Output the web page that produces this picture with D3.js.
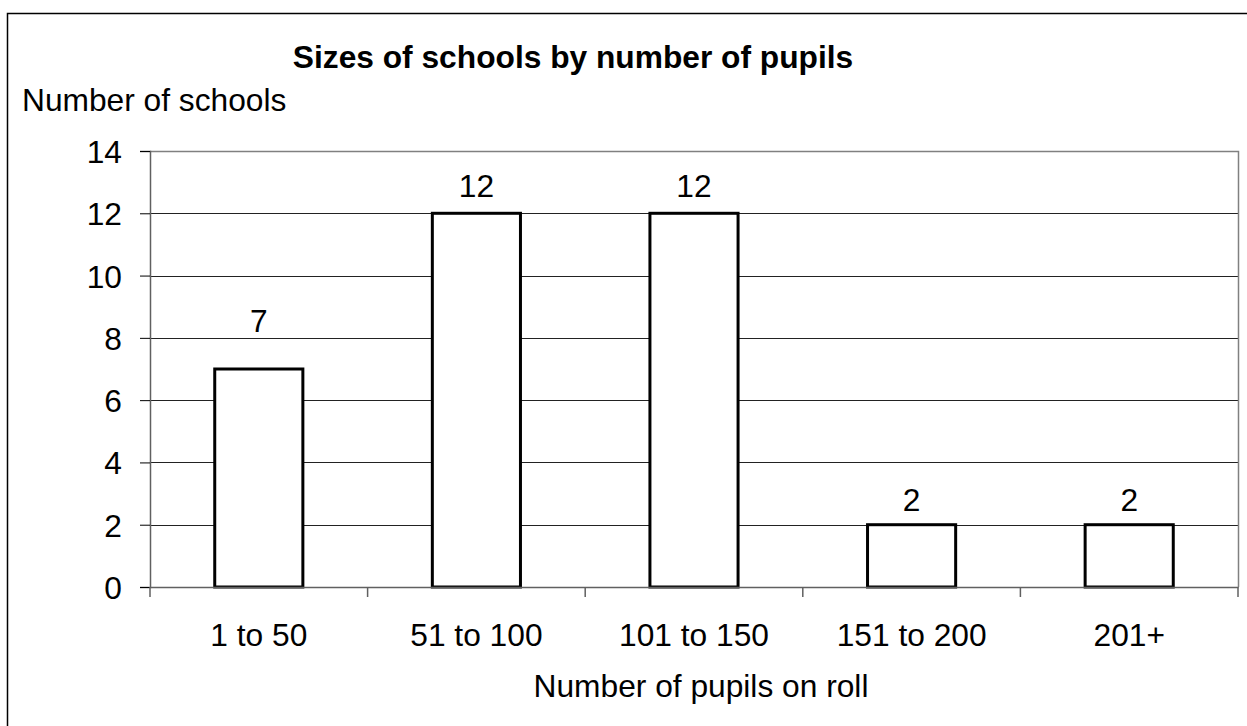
<!DOCTYPE html>
<html><head><meta charset="utf-8">
<script src="https://cdn.jsdelivr.net/npm/d3@7"></script>
<style>body{margin:0;background:#fff}svg{display:block}text{font-family:"Liberation Sans",Arial,sans-serif;fill:#000}</style>
</head><body><svg id="c" width="1247" height="726"></svg>
<script>
const categories = ["1 to 50","51 to 100","101 to 150","151 to 200","201+"];
const schools = [7,12,12,2,2];
const yTicks = [0,2,4,6,8,10,12,14];
const title = "Sizes of schools by number of pupils";
const yTitle = "Number of schools";
const xTitle = "Number of pupils on roll";
// label gap above bar (style)
const labelGap = [37,16,16,14,14];

const svg = d3.select("#c");
const L=150, R=1238, T=151, B=587;
const SX = 1.04, FS = 30.5;
const x = d3.scaleBand().domain(categories).range([L,R]).paddingInner(0.595).paddingOuter(0.2975);
const y = d3.scaleLinear().domain([0,14]).range([B,T]);

function txt(g, s, tx, ty, size, anchor, weight){
  return g.append("text").attr("transform",`translate(${tx},${ty}) scale(${SX},1)`)
    .attr("text-anchor",anchor).attr("font-size",size).attr("font-weight",weight||"normal").text(s);
}

// outer border
svg.append("rect").attr("x",7.5).attr("y",13.5).attr("width",1260).attr("height",730)
  .attr("fill","none").attr("stroke","#000").attr("stroke-width",1.5);

// gridlines
svg.append("g").selectAll("line").data(yTicks.filter(d=>d>0 && d<14)).join("line")
  .attr("x1",L).attr("x2",R).attr("y1",d=>Math.round(y(d))+0.5).attr("y2",d=>Math.round(y(d))+0.5)
  .attr("stroke","#222").attr("stroke-width",1);
// plot area border top/right
svg.append("path").attr("d",`M${L},${T+0.5}H${R+0.5}V${B}`).attr("fill","none").attr("stroke","#808080").attr("stroke-width",1.5);

// bars
svg.append("g").selectAll("rect").data(schools).join("rect")
  .attr("x",(d,i)=>x(categories[i])).attr("width",x.bandwidth())
  .attr("y",d=>y(d)).attr("height",d=>B-y(d))
  .attr("fill","#fff").attr("stroke","#000").attr("stroke-width",3);

// y axis
const yAxis = svg.append("g").attr("transform",`translate(${L},0)`)
  .call(d3.axisLeft(y).tickValues(yTicks).tickSize(10).tickPadding(0).tickFormat(d3.format("d")));
yAxis.select(".domain").attr("stroke","#606060").attr("stroke-width",1.5);
yAxis.selectAll(".tick line").attr("stroke","#000");
yAxis.selectAll(".tick text").remove();
yAxis.selectAll(".tick").each(function(d){
  txt(d3.select(this), d, -28, 11.5, FS, "end");
});

// x axis
const xAxis = svg.append("g").attr("transform",`translate(0,${B})`)
  .call(d3.axisBottom(x).tickSize(0).tickFormat(""));
xAxis.select(".domain").attr("stroke","#606060").attr("stroke-width",1.5);
const bounds = [L, ...categories.map(c=>x(c)+x.bandwidth()+x.step()*x.paddingInner()/2)];
svg.append("g").selectAll("line").data(bounds).join("line")
  .attr("x1",d=>d).attr("x2",d=>d).attr("y1",B).attr("y2",B+10)
  .attr("stroke","#606060").attr("stroke-width",1.5);
const xl = svg.append("g");
categories.forEach(c=>txt(xl, c, x(c)+x.bandwidth()/2, 646, FS, "middle"));

// value labels
const vl = svg.append("g");
schools.forEach((v,i)=>txt(vl, v, x(categories[i])+x.bandwidth()/2, y(v)-labelGap[i], FS, "middle"));

// titles
txt(svg, title, 573, 68, FS, "middle", "bold");
txt(svg, yTitle, 22, 111, FS, "start");
txt(svg, xTitle, 701, 697, FS, "middle");
</script></body></html>
